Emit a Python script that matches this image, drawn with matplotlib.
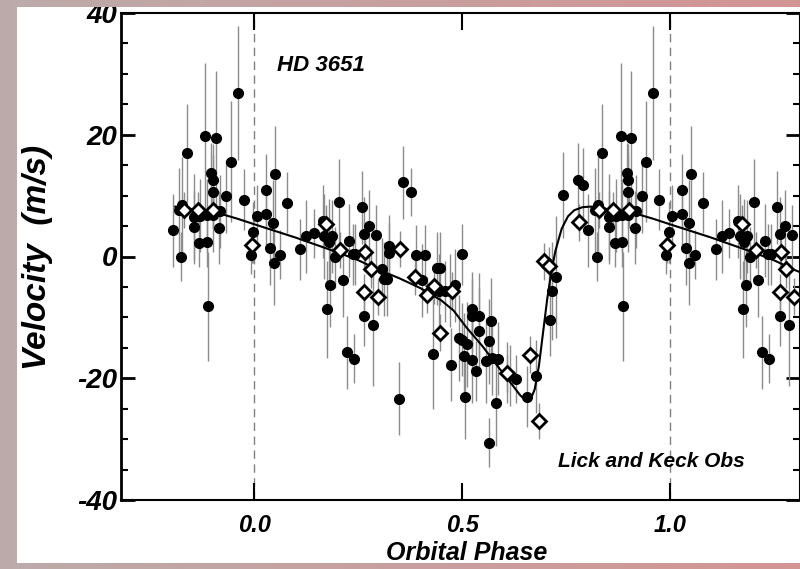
import numpy as np
import matplotlib
matplotlib.use("Agg")
import matplotlib.pyplot as plt
from matplotlib.ticker import MultipleLocator, FormatStrFormatter

plt.rcParams['font.family'] = ['Liberation Sans', 'DejaVu Sans']
plt.rcParams['font.weight'] = 'bold'
plt.rcParams['font.style'] = 'italic'
plt.rcParams['axes.unicode_minus'] = False

# Lick velocities (one orbital cycle, phase 0..1)
lick_phase = [0.006, 0.029, 0.029, 0.046, 0.050, 0.039, 0.047, 0.061, 0.079, 0.111,
              0.125, 0.143, 0.165, 0.169, 0.186, 0.179, 0.194, 0.203, 0.229, 0.237,
              0.243, 0.259, 0.265, 0.276, 0.294, 0.183, 0.213, 0.175, 0.265, 0.287,
              0.223, 0.239, 0.308, 0.312, 0.320, 0.324, 0.324, 0.348, 0.358, 0.377,
              0.390, 0.410, 0.404, 0.440, 0.448, 0.444, 0.460, 0.472, 0.484, 0.430,
              0.474, 0.492, 0.500, 0.505, 0.507, 0.500, 0.524, 0.524, 0.542, 0.569,
              0.540, 0.512, 0.564, 0.523, 0.533, 0.557, 0.571, 0.587, 0.609, 0.615,
              0.631, 0.582, 0.565, 0.657, 0.679, 0.711, 0.716, 0.727, 0.743, 0.779,
              0.790, 0.804, 0.820, 0.827, 0.825, 0.838, 0.854, 0.854, 0.868, 0.886,
              0.870, 0.886, 0.900, 0.882, 0.907, 0.888, 0.896, 0.900, 0.900, 0.916,
              0.918, 0.933, 0.943, 0.960, 0.975, 0.992, 0.998]
lick_vel = [6.7, 10.9, 6.9, 5.5, 13.5, 1.4, -1.0, 0.3, 8.8, 1.2,
            3.3, 3.8, 5.8, 3.3, 3.3, 2.4, -0.1, 9.0, 2.6, 0.4,
            0.4, 8.1, 3.7, 5.0, 3.5, -4.6, -3.9, -8.7, -9.7, -11.2,
            -15.7, -16.8, -2.0, -3.7, -3.7, 1.8, 0.5, -23.4, 12.2, 10.6,
            0.2, 0.2, -3.9, -1.9, -1.9, -5.6, -5.7, -5.6, -4.7, -16.0,
            -17.8, -13.4, -13.7, -16.3, -23.0, 0.4, -8.6, -9.7, -9.7, -10.6,
            -12.2, -14.4, -13.9, -17.0, -18.8, -17.1, -16.7, -16.8, -19.1, -19.5,
            -20.1, -24.1, -30.6, -23.0, -19.7, -10.4, -5.7, -3.4, 10.1, 12.6,
            11.8, 4.3, 7.6, 8.4, 0.0, 17.0, 6.5, 4.8, 2.2, 2.3,
            6.7, 6.8, 6.8, 19.8, 19.4, -8.2, 13.7, 12.5, 10.6, 4.7,
            7.4, 9.9, 15.6, 26.9, 9.3, 0.2, 4.0]
lick_err = [5, 6, 5, 7, 8, 6, 7, 4, 5, 5,
            6, 4, 6, 7, 6, 7, 5, 7, 6, 5,
            5, 6, 6, 6, 5, 7, 6, 8, 5, 10,
            6, 4, 5, 6, 6, 5, 5, 6, 6, 4,
            5, 5, 6, 6, 6, 6, 5, 6, 6, 9,
            6, 7, 6, 7, 7, 5, 6, 6, 7, 7,
            7, 7, 7, 7, 5, 7, 6, 6, 5, 5,
            4, 7, 4, 5, 6, 6, 8, 10, 7, 6,
            6, 6, 7, 8, 4, 8, 7, 6, 4, 4,
            6, 6, 6, 12, 11, 9, 5, 6, 6, 6,
            6, 6, 10, 11, 5, 3, 5]

# Keck velocities
keck_phase = [0.994, 0.173, 0.207, 0.267, 0.352, 0.280, 0.265, 0.299, 0.386, 0.432,
              0.416, 0.476, 0.448, 0.609, 0.664, 0.686, 0.697, 0.709, 0.782, 0.830,
              0.864, 0.902]
keck_vel = [1.9, 5.4, 1.1, 0.8, 1.2, -2.1, -5.8, -6.6, -3.4, -4.8,
            -6.3, -5.6, -12.5, -19.2, -16.1, -27.0, -0.8, -1.5, 5.6, 7.6,
            7.6, 7.6]
keck_err = [3, 3, 3, 3, 3, 3, 3, 3, 3, 3,
            3, 3, 3, 3, 3, 3, 3, 3, 3, 3,
            3, 3]

# orbit fit
model_phase = [0.00, 0.05, 0.10, 0.15, 0.20, 0.25, 0.30, 0.35, 0.40, 0.45,
               0.48, 0.51, 0.55, 0.59, 0.62, 0.64, 0.655, 0.665, 0.675, 0.685,
               0.695, 0.705, 0.715, 0.725, 0.74, 0.755, 0.77, 0.79, 0.81, 0.84,
               0.88, 0.92, 0.96]
model_vel = [5.3, 4.2, 3.1, 1.9, 0.7, -0.6, -2.2, -3.6, -5.2, -7.2,
             -8.9, -11.6, -14.8, -18.4, -21.0, -22.8, -23.7, -23.5, -21.8, -18.0,
             -12.5, -7.0, -2.5, 1.0, 4.6, 6.6, 7.6, 8.1, 8.2, 7.9,
             7.5, 7.0, 6.2]

x_lo, x_hi = -0.2, 1.3


def fold(ph, *cols):
    ph = np.asarray(ph, float)
    cols = [np.asarray(c, float) for c in cols]
    out_p = []
    out_c = [[] for _ in cols]
    for s in (-1, 0, 1):
        p = ph + s
        m = (p >= x_lo) & (p <= x_hi)
        out_p.append(p[m])
        for i, c in enumerate(cols):
            out_c[i].append(c[m])
    return [np.concatenate(out_p)] + [np.concatenate(c) for c in out_c]


lp, lv, le = fold(lick_phase, lick_vel, lick_err)
kp, kv, ke = fold(keck_phase, keck_vel, keck_err)

mp = np.concatenate([np.array(model_phase) + s for s in (-1, 0, 1, 2)])
mv = np.concatenate([np.array(model_vel)] * 4)
keep = (mp >= x_lo) & (mp <= 1.4)
mp, mv = mp[keep], mv[keep]

fig = plt.figure(figsize=(8, 5.69), dpi=100, facecolor='white')
ax = fig.add_axes([121 / 800, 1 - 500 / 569, (800 - 121) / 800, (500 - 13) / 569])

ax.axvline(0, color='#808080', ls=(0, (6, 4)), lw=1, zorder=1)
ax.axvline(1, color='#808080', ls=(0, (6, 4)), lw=1, zorder=1)

ax.errorbar(lp, lv, yerr=le, fmt='none', ecolor='#8c8c8c', elinewidth=1, capsize=0, zorder=2)
ax.errorbar(kp, kv, yerr=ke, fmt='none', ecolor='#8c8c8c', elinewidth=1, capsize=0, zorder=2)
ax.plot(mp, mv, color='black', lw=1.5, zorder=3)
ax.plot(lp, lv, 'o', color='black', ms=7, zorder=4)
ax.plot(kp, kv, 'D', mfc='white', mec='black', mew=2, ms=7.5, zorder=5)

ax.set_xlim(-0.3205, (799 - 254) / 415)
ax.set_ylim(-40, 40)
ax.xaxis.set_major_locator(MultipleLocator(0.5))
ax.xaxis.set_major_formatter(FormatStrFormatter('%.1f'))
ax.yaxis.set_major_locator(MultipleLocator(20))
ax.yaxis.set_minor_locator(MultipleLocator(5))
ax.tick_params(axis='both', which='both', direction='in', top=True, right=True)
ax.tick_params(axis='y', which='major', length=10, width=2, labelsize=20, pad=3)
ax.tick_params(axis='y', which='minor', length=5, width=1.5)
ax.tick_params(axis='x', which='major', length=12, width=1.5, labelsize=17, pad=10)
for sp in ax.spines.values():
    sp.set_linewidth(1.5)
ax.spines['left'].set_linewidth(2)

ax.text(0.055, 31.4, 'HD 3651', fontsize=16, va='center', ha='left')
ax.text(0.73, -33.7, 'Lick and Keck Obs', fontsize=15, va='center', ha='left')

fig.text(38 / 800, 1 - 257 / 569, 'Velocity  (m/s)', rotation=90, fontsize=24,
         ha='center', va='center')
fig.text(467 / 800, 1 - 541 / 569, 'Orbital Phase', fontsize=18, ha='center', va='top')

# framing border of the original picture
H, W = 569, 800
yy, xx = np.mgrid[0:H, 0:W]
t = xx / (W - 1)
rgba = np.zeros((H, W, 4))
rgba[..., 0] = 0.74 + 0.09 * t
rgba[..., 1] = 0.67 - 0.09 * t
rgba[..., 2] = 0.67 - 0.09 * t
border = (xx < 17) | (yy < 7) | (yy >= 563)
rgba[..., 3] = border.astype(float)
bg = fig.add_axes([0, 0, 1, 1], zorder=10)
bg.imshow(rgba, aspect='auto', interpolation='nearest')
bg.axis('off')

fig.savefig('out.png', dpi=100, facecolor='white')
